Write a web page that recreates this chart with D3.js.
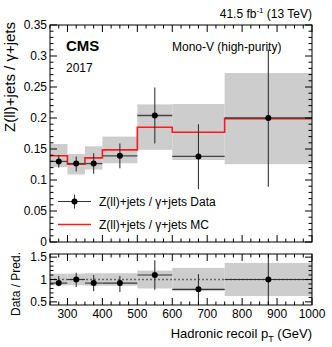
<!DOCTYPE html>
<html><head><meta charset="utf-8">
<script src="https://cdn.jsdelivr.net/npm/d3@7"></script>
<style>body{margin:0;background:#fff}svg{display:block}text{font-family:"Liberation Sans",Arial,sans-serif}</style>
</head><body>
<svg id="c" width="332" height="347"></svg>
<script>
const binEdges = [250,300,350,400,500,600,750,1000];
const dataVals = [0.130,0.1265,0.1265,0.139,0.204,0.138,0.200];
const dataHi   = [0.1405,0.138,0.143,0.1587,0.249,0.190,0.310];
const dataLo   = [0.120,0.1137,0.110,0.119,0.159,0.0853,0.0892];
const mcVals   = [0.139,0.1255,0.1357,0.1486,0.185,0.177,0.199];
const mcHi     = [0.158,0.142,0.1544,0.170,0.222,0.2226,0.2726];
const mcLo     = [0.1207,0.1089,0.1169,0.127,0.1486,0.1322,0.1255];
const ratioVals = [0.92,1.0,0.92,0.92,1.1,0.78,1.0];
const ratioHi   = [1.08,1.15,1.10,1.08,1.43,1.12,1.7];
const ratioLo   = [0.85,0.83,0.74,0.72,0.77,0.3,0.3];
const bandHi    = [1.13,1.13,1.14,1.14,1.2,1.26,1.37];
const bandLo    = [0.87,0.87,0.86,0.86,0.8,0.74,0.63];
const xTicks = [300,400,500,600,700,800,900,1000];
const yTicks = [0,0.05,0.1,0.15,0.2,0.25,0.3,0.35];
const rTicks = [0.5,1,1.5];

const svg = d3.select("#c");
const L=50, R=312, T=25, B=242, RT=254, RB=305;
const x = d3.scaleLinear().domain([250,1000]).range([L,R]);
const y = d3.scaleLinear().domain([0,0.35]).range([B,T]);
const yr = d3.scaleLinear().domain([0.43,1.57]).range([RB,RT]);
const bins = d3.range(binEdges.length-1).map(i=>({i,x0:binEdges[i],x1:binEdges[i+1],xc:(binEdges[i]+binEdges[i+1])/2}));

svg.append("defs").append("clipPath").attr("id","cr").append("rect").attr("x",L).attr("y",RT).attr("width",R-L).attr("height",RB-RT);
svg.append("defs").append("clipPath").attr("id","cm").append("rect").attr("x",L).attr("y",T).attr("width",R-L).attr("height",B-T);

// main bands
const gm = svg.append("g").attr("clip-path","url(#cm)");
gm.selectAll("rect.band").data(bins).join("rect")
  .attr("x",d=>x(d.x0)).attr("width",d=>x(d.x1)-x(d.x0))
  .attr("y",d=>y(mcHi[d.i])).attr("height",d=>y(mcLo[d.i])-y(mcHi[d.i]))
  .attr("fill","#cdcdcd");
// MC step line
const stepPts=[];
bins.forEach(d=>{stepPts.push([d.x0,mcVals[d.i]]);stepPts.push([d.x1,mcVals[d.i]]);});
gm.append("path").attr("d",d3.line().x(p=>x(p[0])).y(p=>y(p[1]))(stepPts))
  .attr("fill","none").attr("stroke","#ff1a1a").attr("stroke-width",1.6);
// data
gm.selectAll("line.dx").data(bins).join("line")
  .attr("x1",d=>x(d.x0)).attr("x2",d=>x(d.x1)).attr("y1",d=>y(dataVals[d.i])).attr("y2",d=>y(dataVals[d.i]))
  .attr("stroke","#444").attr("stroke-width",1.3);
gm.selectAll("line.dy").data(bins).join("line")
  .attr("x1",d=>x(d.xc)).attr("x2",d=>x(d.xc)).attr("y1",d=>y(dataHi[d.i])).attr("y2",d=>y(dataLo[d.i]))
  .attr("stroke","#333").attr("stroke-width",1.1);
gm.selectAll("circle").data(bins).join("circle")
  .attr("cx",d=>x(d.xc)).attr("cy",d=>y(dataVals[d.i])).attr("r",3).attr("fill","#000");

// ratio
const gr = svg.append("g").attr("clip-path","url(#cr)");
gr.selectAll("rect").data(bins).join("rect")
  .attr("x",d=>x(d.x0)).attr("width",d=>x(d.x1)-x(d.x0))
  .attr("y",d=>yr(bandHi[d.i])).attr("height",d=>yr(bandLo[d.i])-yr(bandHi[d.i]))
  .attr("fill","#cdcdcd");
gr.append("line").attr("x1",L).attr("x2",R).attr("y1",yr(1)).attr("y2",yr(1))
  .attr("stroke","#666").attr("stroke-width",1.4).attr("stroke-dasharray","2,2");
gr.selectAll("line.dx").data(bins).join("line")
  .attr("x1",d=>x(d.x0)).attr("x2",d=>x(d.x1)).attr("y1",d=>yr(ratioVals[d.i])).attr("y2",d=>yr(ratioVals[d.i]))
  .attr("stroke","#333").attr("stroke-width",1.1);
gr.selectAll("line.dy").data(bins).join("line")
  .attr("x1",d=>x(d.xc)).attr("x2",d=>x(d.xc)).attr("y1",d=>yr(ratioHi[d.i])).attr("y2",d=>yr(ratioLo[d.i]))
  .attr("stroke","#333").attr("stroke-width",1.1);
gr.selectAll("circle").data(bins).join("circle")
  .attr("cx",d=>x(d.xc)).attr("cy",d=>yr(ratioVals[d.i])).attr("r",3).attr("fill","#000");

// axes helper
function frame(top,bottom,ys,yMaj,yMin,yFmt,showX){
  const g=svg.append("g");
  g.append("rect").attr("x",L).attr("y",top).attr("width",R-L).attr("height",bottom-top)
   .attr("fill","none").attr("stroke","#000").attr("stroke-width",1);
  const xMin = d3.range(250,1001,25);
  const xm = g.append("g").attr("stroke","#000").attr("stroke-width",1);
  xMin.forEach(v=>{
    const len = (v%100===0)?7:3.5;
    xm.append("line").attr("x1",x(v)).attr("x2",x(v)).attr("y1",bottom).attr("y2",bottom-len);
    xm.append("line").attr("x1",x(v)).attr("x2",x(v)).attr("y1",top).attr("y2",top+len);
  });
  yMin.forEach(v=>{
    const maj = yMaj.some(m=>Math.abs(m-v)<1e-9);
    const len = maj?7:3.5;
    xm.append("line").attr("x1",L).attr("x2",L+len).attr("y1",ys(v)).attr("y2",ys(v));
    xm.append("line").attr("x1",R).attr("x2",R-len).attr("y1",ys(v)).attr("y2",ys(v));
  });
  g.selectAll("text.yl").data(yMaj).join("text")
   .attr("x",L-3).attr("y",d=>ys(d)).attr("dy","0.36em").attr("text-anchor","end")
   .attr("font-size",12).attr("fill","#000").text(yFmt);
  if(showX){
    g.selectAll("text.xl").data(xTicks).join("text")
     .attr("x",d=>x(d)).attr("y",bottom+13).attr("text-anchor","middle")
     .attr("font-size",12).attr("fill","#000").text(d=>d);
  }
}
frame(T,B,y,yTicks,d3.range(0,0.3501,0.01).map(v=>+v.toFixed(3)),d=>d===0?"0":String(+d.toFixed(2)),false);
frame(RT,RB,yr,rTicks,d3.range(0.5,1.501,0.1).map(v=>+v.toFixed(2)),d=>String(d),true);

// texts
svg.append("text").attr("x",R).attr("y",18).attr("text-anchor","end").attr("font-size",12)
  .html('41.5 fb<tspan dy="-5" font-size="8">-1</tspan><tspan dy="5"> (13 TeV)</tspan>');
svg.append("text").attr("x",66).attr("y",51).attr("font-size",15).attr("font-weight","bold").text("CMS");
svg.append("text").attr("x",66).attr("y",72).attr("font-size",12).text("2017");
svg.append("text").attr("x",172).attr("y",51).attr("font-size",12).text("Mono-V (high-purity)");
svg.append("text").attr("transform","translate(15,22) rotate(-90)").attr("text-anchor","end")
  .attr("font-size",15).text("Z(ll)+jets / γ+jets");
svg.append("text").attr("transform","translate(20,252) rotate(-90)").attr("text-anchor","end")
  .attr("font-size",12).text("Data / Pred.");
svg.append("text").attr("x",R).attr("y",338).attr("text-anchor","end").attr("font-size",13)
  .html('Hadronic recoil p<tspan dy="4" font-size="9">T</tspan><tspan dy="-4"> (GeV)</tspan>');

// legend
const legY=[201.5,224.5];
svg.append("line").attr("x1",58).attr("x2",91).attr("y1",legY[0]).attr("y2",legY[0]).attr("stroke","#333").attr("stroke-width",1.1);
svg.append("line").attr("x1",74.5).attr("x2",74.5).attr("y1",legY[0]-7).attr("y2",legY[0]+7).attr("stroke","#333").attr("stroke-width",1.1);
svg.append("circle").attr("cx",74.5).attr("cy",legY[0]).attr("r",3).attr("fill","#000");
svg.append("line").attr("x1",58).attr("x2",91).attr("y1",legY[1]).attr("y2",legY[1]).attr("stroke","#ff1a1a").attr("stroke-width",1.6);
svg.append("text").attr("x",99).attr("y",legY[0]).attr("dy","0.36em").attr("font-size",12).text("Z(ll)+jets / γ+jets Data");
svg.append("text").attr("x",99).attr("y",legY[1]).attr("dy","0.36em").attr("font-size",12).text("Z(ll)+jets / γ+jets MC");
</script>
</body></html>
